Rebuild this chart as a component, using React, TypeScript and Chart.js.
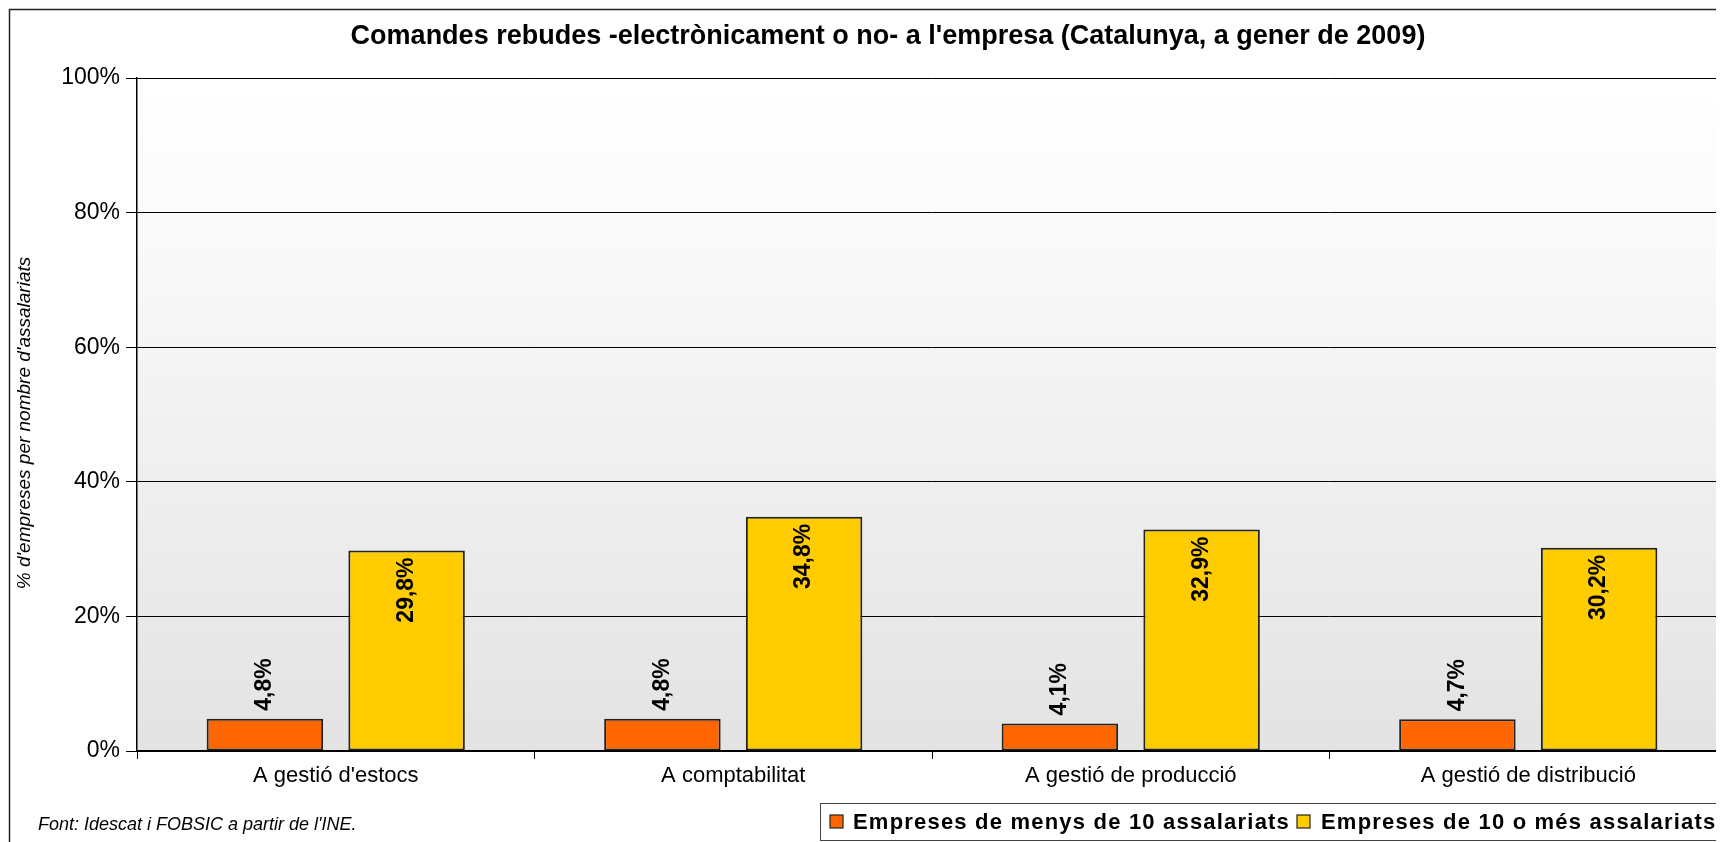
import React, { useEffect, useRef } from "react";
import { Chart, registerables } from "chart.js";

Chart.register(...registerables);

const categories = ["A gestió d'estocs", "A comptabilitat", "A gestió de producció", "A gestió de distribució"];
const seriesSmall = [4.8, 4.8, 4.1, 4.7];
const seriesLarge = [29.8, 34.8, 32.9, 30.2];
const seriesNames = ["Empreses de menys de 10 assalariats", "Empreses de 10 o més assalariats"];
const seriesColors = ["#FF6600", "#FFCC00"];
const titleText = "Comandes rebudes -electrònicament o no- a l'empresa (Catalunya, a gener de 2009)";
const yTitleText = "% d'empreses per nombre d'assalariats";
const footerText = "Font: Idescat i FOBSIC a partir de l'INE.";

const FONT = "'Liberation Sans', Arial, sans-serif";
const W = 1760;
const H = 834;
const AREA_LEFT = 129;
const AREA_TOP = 70;
const AREA_BOTTOM = 743;
const AREA_RIGHT = 1719;
const X_AXIS_H = 50;

const fmt = (v: number) => v.toFixed(1).replace(".", ",") + "%";

const decorPlugin = {
  id: "decor",
  beforeDraw(chart: any) {
    const { ctx, chartArea } = chart;
    ctx.save();
    ctx.fillStyle = "#ffffff";
    ctx.fillRect(0, 0, chart.width, chart.height);
    const g = ctx.createLinearGradient(0, chartArea.top, 0, chartArea.bottom);
    g.addColorStop(0, "#ffffff");
    g.addColorStop(0.15, "#fcfcfc");
    g.addColorStop(1, "#e3e3e3");
    ctx.fillStyle = g;
    ctx.fillRect(chartArea.left, chartArea.top, chartArea.right - chartArea.left, chartArea.bottom - chartArea.top);
    ctx.restore();
  },
  afterDraw(chart: any) {
    const { ctx } = chart;
    ctx.save();
    // outer border
    ctx.strokeStyle = "#222";
    ctx.lineWidth = 1.5;
    ctx.strokeRect(1.5, 1.5, chart.width + 20, chart.height + 20);
    // title
    ctx.fillStyle = "#000";
    ctx.font = `bold 27px ${FONT}`;
    ctx.textAlign = "center";
    ctx.textBaseline = "middle";
    ctx.fillText(titleText, 880, 29);
    // y title
    ctx.save();
    ctx.translate(17, 415);
    ctx.rotate(-Math.PI / 2);
    ctx.font = `italic 19px ${FONT}`;
    ctx.fillText(yTitleText, 0, 0);
    ctx.restore();
    // footer
    ctx.font = `italic 18px ${FONT}`;
    ctx.textAlign = "left";
    ctx.fillText(footerText, 30, 817);
    // legend
    const lx = 812, ly = 795, lh = 37;
    ctx.fillStyle = "#fff";
    ctx.fillRect(lx, ly, W - lx + 10, lh);
    ctx.strokeStyle = "#444";
    ctx.lineWidth = 1;
    ctx.strokeRect(lx + 0.5, ly + 0.5, W, lh);
    ctx.font = `bold 22px ${FONT}`;
    (ctx as any).letterSpacing = "1.2px";
    const items = [
      { sx: 822, tx: 845 },
      { sx: 1289, tx: 1313 },
    ];
    items.forEach((it, i) => {
      const cy = ly + lh / 2;
      ctx.fillStyle = seriesColors[i];
      ctx.fillRect(it.sx, cy - 6.5, 13, 13);
      ctx.strokeStyle = "#222";
      ctx.lineWidth = 1.2;
      ctx.strokeRect(it.sx, cy - 6.5, 13, 13);
      ctx.fillStyle = "#000";
      ctx.textBaseline = "middle";
      ctx.fillText(seriesNames[i], it.tx, cy + 1);
    });
    (ctx as any).letterSpacing = "0px";
    ctx.restore();
  },
  afterDatasetsDraw(chart: any) {
    const { ctx } = chart;
    ctx.save();
    ctx.fillStyle = "#000";
    ctx.font = `bold 23px ${FONT}`;
    ctx.textBaseline = "middle";
    chart.data.datasets.forEach((ds: any, di: number) => {
      const meta = chart.getDatasetMeta(di);
      meta.data.forEach((bar: any, i: number) => {
        const v = ds.data[i];
        ctx.save();
        if (di === 0) {
          ctx.translate(bar.x, bar.y - 8);
          ctx.rotate(-Math.PI / 2);
          ctx.textAlign = "left";
        } else {
          ctx.translate(bar.x, bar.y + 7);
          ctx.rotate(-Math.PI / 2);
          ctx.textAlign = "right";
        }
        ctx.fillText(fmt(v), 0, 0);
        ctx.restore();
      });
    });
    ctx.restore();
  },
};

export default function App() {
  const ref = useRef<HTMLCanvasElement | null>(null);
  useEffect(() => {
    if (!ref.current) return;
    const chart = new Chart(ref.current, {
      type: "bar",
      data: {
        labels: categories,
        datasets: [
          {
            label: seriesNames[0],
            data: seriesSmall,
            backgroundColor: seriesColors[0],
            borderColor: "#222",
            borderWidth: 2,
            borderSkipped: false,
            categoryPercentage: 0.713,
            barPercentage: 0.822,
          },
          {
            label: seriesNames[1],
            data: seriesLarge,
            backgroundColor: seriesColors[1],
            borderColor: "#222",
            borderWidth: 2,
            borderSkipped: false,
            categoryPercentage: 0.713,
            barPercentage: 0.822,
          },
        ],
      },
      options: {
        responsive: false,
        animation: false,
        layout: {
          padding: { left: 0, top: AREA_TOP, right: W - AREA_RIGHT, bottom: H - AREA_BOTTOM - X_AXIS_H },
        },
        plugins: {
          legend: { display: false },
          title: { display: false },
          tooltip: { enabled: false },
        },
        scales: {
          x: {
            grid: { display: true, offset: true, drawOnChartArea: false, drawTicks: true, tickLength: 8, color: "#000", lineWidth: 1 },
            border: { display: true, color: "#000", width: 1.5 },
            ticks: { color: "#000", font: { family: FONT, size: 22 }, padding: 4, maxRotation: 0, autoSkip: false },
            afterFit(scale: any) {
              scale.height = X_AXIS_H;
            },
          },
          y: {
            min: 0,
            max: 100,
            grid: { color: "#000", lineWidth: 1, tickLength: 11, drawTicks: true },
            border: { display: true, color: "#000", width: 1.5 },
            ticks: {
              stepSize: 20,
              color: "#000",
              font: { family: FONT, size: 23 },
              padding: 6,
              callback: (v: any) => v + "%",
            },
            afterFit(scale: any) {
              scale.width = AREA_LEFT;
            },
          },
        },
      },
      plugins: [decorPlugin],
    });
    return () => chart.destroy();
  }, []);
  return (
    <div style={{ width: 1716, height: H, overflow: "hidden", position: "relative" }}>
      <canvas ref={ref} width={W} height={H} style={{ width: W, height: H, display: "block" }} />
    </div>
  );
}
